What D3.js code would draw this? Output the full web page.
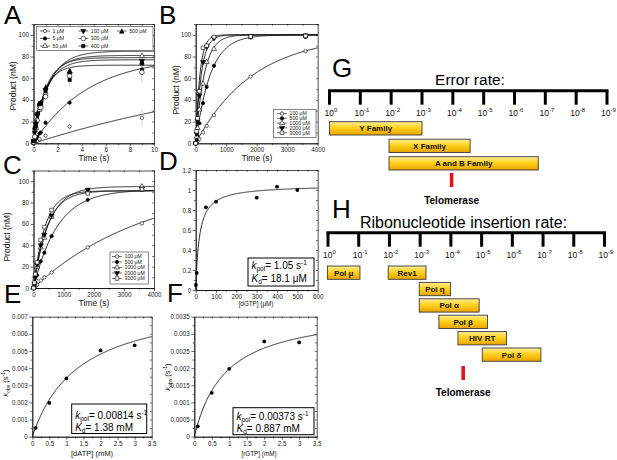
<!DOCTYPE html>
<html>
<head>
<meta charset="utf-8">
<script src="https://d3js.org/d3.v7.min.js"></script>
<style>
  body { margin: 0; background: #fff; }
</style>
</head>
<body>
<svg id="fig" width="617" height="460"></svg>
<script>
// ---------- data: panel A (time course, seconds) ----------
const concA = ['1 μM', '5 μM', '50 μM', '100 μM', '300 μM', '400 μM', '500 μM'];
const symA = ['oc', 'fc', 'ot', 'ft', 'oC', 'fs', 'rt'];
const timeA = [0, 0.1, 0.2, 0.3, 0.5, 0.6, 1, 3, 9];
const prodA = [
  [0, null, null, 2, 4, null, 7, 15.5, 23.5],
  [0, 2, 4, 6, 9, 10, 19, 37.5, 68],
  [1, 7, 14, 22, 31, 35, 46, 66, 80.5],
  [2, 10, 18, 26, 35, 37, 49, 64, 76],
  [1, 6, 14, 21, 33, 33, 43, 62, 65.5],
  [2, 14, 16, 27, 36, 37, 48, 58.5, 73.5],
  [3, 15, 20, 28, 37, 38, 52, 67, 75]
];
const errA = [
  [0, 0, 0, 0, 0, 0, 2, 4, 8],
  [0, 0, 0, 0, 1, 0, 3, 5, 9],
  [0, 0, 0, 0, 0, 0, 4, 6, 9],
  [0, 0, 0, 0, 0, 0, 4, 5, 9],
  [0, 0, 0, 0, 0, 0, 3, 6, 10],
  [0, 0, 0, 0, 0, 0, 4, 7, 8],
  [0, 0, 0, 0, 0, 0, 4, 5, 9]
];
const ampA = [80, 80, 85, 81, 72, 77, 79];
const rateA = [0.045, 0.22, 0.8, 0.9, 1.15, 0.95, 1.0];

// ---------- panel B ----------
const concB = ['100 μM', '500 μM', '1000 μM', '2000 μM', '3000 μM'];
const symB = ['oc', 'fc', 'ot', 'ft', 'os'];
const timeB = [0, 30, 60, 120, 240, 360, 600, 1800, 3600];
const prodB = [
  [0, 1, 2, 4, 10, 16, 26, 61.5, 85],
  [0, 3, 7, 18.5, 37, 52, 71.5, 97.5, 98],
  [0, 6, 14, 31, 55, 75, 87, 98, 99],
  [0, 9, 21, 44, 75, 89, 97, 99, 99.5],
  [0, 11, 23, 48, 88, 90, 98, 98.5, 99]
];
const ampB = [100, 100, 100, 100, 100];
const rateB = [0.00053, 0.0021, 0.0036, 0.0055, 0.0072];

// ---------- panel C ----------
const concC = ['100 μM', '500 μM', '1000 μM', '2000 μM', '3000 μM'];
const symC = ['oc', 'fc', 'ot', 'ft', 'os'];
const timeC = [0, 30, 60, 120, 240, 360, 600, 1800, 3600];
const prodC = [
  [0, 0.5, 1.5, 3, 7, 10, 14.5, 38, 60.5],
  [0, 2, 5, 12, 25, 33, 48.5, 82.5, 92],
  [0, 4, 9, 20, 38, 47, 66.5, 91, 95],
  [0, 4, 10, 22, 40, 50, 68, 92, 93],
  [0, 5, 13, 24, 45, 57, 73, 88.5, 92.5]
];
const ampC = [100, 92, 95, 91, 91];
const rateC = [0.000265, 0.00125, 0.002, 0.0022, 0.0026];

// ---------- panels D, E, F (kobs vs [NTP]) ----------
const concD = [1, 5, 50, 100, 300, 400, 500];
const kobsD = [0.05, 0.17, 0.827, 0.883, 0.923, 1.033, 1.0];
const fitD = { kpol: 1.05, kd: 18.1 };

const concE = [0.1, 0.5, 1, 2, 3];
const kobsE = [0.00052, 0.00197, 0.0034, 0.00503, 0.00533];
const fitE = { kpol: 0.00814, kd: 1.38 };

const concF = [0.1, 0.5, 1, 2, 3];
const kobsF = [0.0003, 0.00128, 0.00198, 0.00278, 0.00275];
const fitF = { kpol: 0.00373, kd: 0.887 };

// ---------- tick labels ----------
const ticksProd = [0, 20, 40, 60, 80, 100];
const minorProd = [10, 30, 50, 70, 90, 110];
const ticksTimeA = [0, 2, 4, 6, 8, 10];
const minorTimeA = [1, 3, 5, 7, 9];
const ticksTimeBC = [0, 1000, 2000, 3000, 4000];
const minorTimeBC = [500, 1500, 2500, 3500];
const ticksDx = [0, 100, 200, 300, 400, 500, 600];
const minorDx = [50, 150, 250, 350, 450, 550];
const ticksDy = [0, 0.2, 0.4, 0.6, 0.8, 1, 1.2];
const minorDy = [0.1, 0.3, 0.5, 0.7, 0.9, 1.1];
const ticksEFx = [0, 0.5, 1, 1.5, 2, 2.5, 3, 3.5];
const minorEFx = [0.25, 0.75, 1.25, 1.75, 2.25, 2.75, 3.25];
const ticksEy = [0, 0.001, 0.002, 0.003, 0.004, 0.005, 0.006, 0.007];
const minorEy = [0.0005, 0.0015, 0.0025, 0.0035, 0.0045, 0.0055, 0.0065];
const ticksFy = [0, 0.0005, 0.001, 0.0015, 0.002, 0.0025, 0.003, 0.0035];
const minorFy = [0.00025, 0.00075, 0.00125, 0.00175, 0.00225, 0.00275, 0.00325];

// ---------- panels G, H (log10 scale, 10^0 .. 10^-9) ----------
const exponents = [0, 1, 2, 3, 4, 5, 6, 7, 8, 9];
const errNames = ['Y Family', 'X Family', 'A and B Family'];
const errFrom = [0, 1.93, 1.93];
const errTo = [3, 4.56, 6.77];
const errTelomerase = 3.96;

const insNames = ['Pol μ', 'Rev1', 'Pol η', 'Pol α', 'Pol β', 'HIV RT', 'Pol δ'];
const insFrom = [-0.02, 1.96, 2.97, 2.97, 3.61, 4.23, 5.02];
const insTo = [1.04, 3.19, 3.99, 4.92, 5.19, 5.81, 6.93];
const insRow = [0, 0, 1, 2, 3, 4, 5];
const insTelomerase = 4.4;

// ---------- drawing ----------
const FONT = '"Liberation Sans", Arial, sans-serif';
const svg = d3.select('#fig');
const fmt = d => String(+d.toFixed(5));

const SYM = {
  oc: [d3.symbolCircle, 9, '#fff'],
  fc: [d3.symbolCircle, 9, '#000'],
  ot: [d3.symbolTriangle, 11, '#fff'],
  ft: [d3.symbolTriangle, 11, '#000', true],
  oC: [d3.symbolCircle, 17, '#fff'],
  fs: [d3.symbolSquare, 11, '#000'],
  os: [d3.symbolSquare, 13, '#fff'],
  rt: [{ draw(c, s) { const r = Math.sqrt(s) / 1.6; c.moveTo(-r, r); c.lineTo(r, r); c.lineTo(r * 0.1, -r); c.closePath(); } }, 12, '#000']
};

function drawSym(g, type, px, py) {
  const [t, size, fill, flip] = SYM[type];
  g.append('path')
    .attr('d', d3.symbol().type(t).size(size)())
    .attr('transform', `translate(${px},${py})` + (flip ? ' rotate(180)' : ''))
    .attr('fill', fill).attr('stroke', '#000').attr('stroke-width', 0.6);
}

function frame(o) {
  const x = d3.scaleLinear().domain(o.xd).range([o.l, o.r]);
  const y = d3.scaleLinear().domain(o.yd).range([o.b, o.t]);
  const g = svg.append('g');
  const ax = (gen, tr, vals, size, lab) => {
    const a = g.append('g').attr('transform', tr)
      .call(gen.tickValues(vals).tickSize(size).tickSizeOuter(0).tickPadding(1.5)
        .tickFormat(lab ? fmt : () => ''));
    a.select('.domain').attr('stroke', '#000').attr('stroke-width', 0.7);
    a.selectAll('line').attr('stroke', '#000').attr('stroke-width', 0.6);
    a.selectAll('text').attr('font-size', 6.3).attr('font-family', FONT).attr('fill', '#222');
    return a;
  };
  ax(d3.axisBottom(x), `translate(0,${o.b})`, o.xt, 3, true);
  ax(d3.axisBottom(x), `translate(0,${o.b})`, o.xm, 1.8, false);
  ax(d3.axisLeft(y), `translate(${o.l},0)`, o.yt, 3, true);
  ax(d3.axisLeft(y), `translate(${o.l},0)`, o.ym, 1.8, false);
  ax(d3.axisTop(x), `translate(0,${o.t})`, o.xt.concat(o.xm), -1.8, false);
  ax(d3.axisRight(y), `translate(${o.r},0)`, o.yt.concat(o.ym), -1.8, false);
  return { g, x, y };
}

function letter(txt, x, y) {
  svg.append('text').attr('x', x).attr('y', y).attr('font-family', FONT)
    .attr('font-size', 26).text(txt);
}

function label(txt, x, y, size, rot) {
  return svg.append('text')
    .attr('transform', `translate(${x},${y})` + (rot ? ' rotate(-90)' : ''))
    .attr('text-anchor', 'middle').attr('font-family', FONT)
    .attr('font-size', size).attr('fill', '#111').text(txt);
}

function timeCourse(p, times, prods, amps, rates, syms, tmax, errs) {
  const line = d3.line().x(d => p.x(d[0])).y(d => p.y(d[1]));
  const samples = d3.range(0, 201).map(i => tmax * i / 200);
  prods.forEach((vals, s) => {
    p.g.append('path')
      .attr('d', line(samples.map(t => [t, amps[s] * (1 - Math.exp(-rates[s] * t))])))
      .attr('fill', 'none').attr('stroke', '#111').attr('stroke-width', 0.9);
  });
  if (errs) {
    prods.forEach((vals, s) => vals.forEach((v, i) => {
      if (v == null || !errs[s][i]) return;
      p.g.append('line').attr('x1', p.x(times[i])).attr('x2', p.x(times[i]))
        .attr('y1', p.y(v - errs[s][i])).attr('y2', p.y(v + errs[s][i]))
        .attr('stroke', '#c8c8c8').attr('stroke-width', 0.7);
    }));
  }
  prods.forEach((vals, s) => vals.forEach((v, i) => {
    if (v == null) return;
    drawSym(p.g, syms[s], p.x(times[i]), p.y(v));
  }));
}

function legend(names, syms, x0, y0, x1, y1, cols, rows) {
  const g = svg.append('g');
  g.append('rect').attr('x', x0).attr('y', y0).attr('width', x1 - x0).attr('height', y1 - y0)
    .attr('fill', '#fff').attr('stroke', '#333').attr('stroke-width', 0.6);
  names.forEach((n, i) => {
    const c = Math.floor(i / rows.length), r = i % rows.length;
    const lx = cols[c], ly = rows[r];
    g.append('line').attr('x1', lx).attr('x2', lx + 10).attr('y1', ly).attr('y2', ly)
      .attr('stroke', '#111').attr('stroke-width', 0.6);
    drawSym(g, syms[i], lx + 5, ly);
    g.append('text').attr('x', lx + 12.5).attr('y', ly + 1.8).attr('font-family', FONT)
      .attr('font-size', 5.2).attr('fill', '#222').text(n);
  });
}

function hyperbola(p, conc, kobs, fit, xmax) {
  const line = d3.line().x(d => p.x(d[0])).y(d => p.y(d[1]));
  const samples = d3.range(0, 301).map(i => xmax * i / 300);
  p.g.append('path')
    .attr('d', line(samples.map(c => [c, fit.kpol * c / (fit.kd + c)])))
    .attr('fill', 'none').attr('stroke', '#111').attr('stroke-width', 0.9);
  conc.forEach((c, i) => p.g.append('circle').attr('cx', p.x(c)).attr('cy', p.y(kobs[i]))
    .attr('r', 1.9).attr('fill', '#000'));
}

function kbox(x, y, w, h, kpol, kpolUnit, kd, kdUnit, b1, b2) {
  const g = svg.append('g').attr('font-family', FONT).attr('font-size', 10);
  g.append('rect').attr('x', x).attr('y', y).attr('width', w).attr('height', h)
    .attr('fill', '#fff').attr('stroke', '#000').attr('stroke-width', 1);
  const t1 = g.append('text').attr('x', x + 3.5).attr('y', b1);
  t1.append('tspan').attr('font-style', 'italic').text('k');
  t1.append('tspan').attr('font-size', 6.5).attr('dy', 2).text('pol');
  t1.append('tspan').attr('dy', -2).text('= ' + kpol + ' ' + kpolUnit);
  t1.append('tspan').attr('font-size', 6.5).attr('dy', -4).text('-1');
  const t2 = g.append('text').attr('x', x + 3.5).attr('y', b2);
  t2.append('tspan').attr('font-style', 'italic').text('K');
  t2.append('tspan').attr('font-size', 6.5).attr('dy', 2).text('d');
  t2.append('tspan').attr('dy', -2).text('= ' + kd + ' ' + kdUnit);
}

function kobsLabel(x, y) {
  const t = svg.append('text').attr('transform', `translate(${x},${y}) rotate(-90)`)
    .attr('text-anchor', 'middle').attr('font-family', FONT).attr('font-size', 7.5).attr('fill', '#111');
  t.append('tspan').attr('font-style', 'italic').text('k');
  t.append('tspan').attr('font-size', 5).attr('dy', 1.5).text('obs');
  t.append('tspan').attr('dy', -1.5).text(' (s');
  t.append('tspan').attr('font-size', 5).attr('dy', -3).text('-1');
  t.append('tspan').attr('dy', 3).text(')');
}

// --- A
const pA = frame({ l: 33.5, r: 154, t: 24, b: 143.3, xd: [0, 10], yd: [0, 110],
  xt: ticksTimeA, xm: minorTimeA, yt: ticksProd, ym: minorProd });
timeCourse(pA, timeA, prodA, ampA, rateA, symA, 10, errA);
legend(concA, symA, 36.7, 26.5, 153, 50.5, [40, 78.3, 116.7], [31, 38.5, 46]);
letter('A', 4, 24);
label('Product (nM)', 16, 86, 8.5, true);
label('Time (s)', 94, 161, 8.5);

// --- B
const pB = frame({ l: 195.7, r: 317.7, t: 24, b: 143.3, xd: [0, 4000], yd: [0, 110],
  xt: ticksTimeBC, xm: minorTimeBC, yt: ticksProd, ym: minorProd });
timeCourse(pB, timeB, prodB, ampB, rateB, symB, 4000);
legend(concB, symB, 273.5, 109.5, 316, 137.5, [277], [113.5, 118.3, 123.1, 127.9, 132.7]);
letter('B', 159, 24);
label('Product (nM)', 179, 90, 8.5, true);
label('Time (s)', 257, 161, 8.5);

// --- C
const pC = frame({ l: 33.5, r: 154, t: 170.5, b: 288, xd: [0, 4000], yd: [0, 110],
  xt: ticksTimeBC, xm: minorTimeBC, yt: ticksProd, ym: minorProd });
timeCourse(pC, timeC, prodC, ampC, rateC, symC, 4000);
legend(concC, symC, 110, 252, 148.5, 284, [112], [256.5, 262, 267.5, 273, 278.5]);
letter('C', 3, 173.5);
label('Product (nM)', 10, 237, 8.5, true);
label('Time (s)', 94, 306, 8.5);

// --- D
const pD = frame({ l: 195.7, r: 317.7, t: 170, b: 290, xd: [0, 600], yd: [0, 1.2],
  xt: ticksDx, xm: minorDx, yt: ticksDy, ym: minorDy });
hyperbola(pD, concD, kobsD, fitD, 600);
kbox(248, 258, 66, 28, fitD.kpol, 's', fitD.kd, 'μM', 268.5, 282);
letter('D', 159, 170);
label('[dGTP] (μM)', 256, 306, 6.3);

// --- E
const pE = frame({ l: 32.3, r: 151.7, t: 316.7, b: 436.7, xd: [0, 3.5], yd: [0, 0.007],
  xt: ticksEFx, xm: minorEFx, yt: ticksEy, ym: minorEy });
hyperbola(pE, concE, kobsE, fitE, 3.5);
kbox(71.7, 404, 75, 29.5, fitE.kpol, 's', fitE.kd, 'mM', 418.5, 431);
letter('E', 4, 303);
kobsLabel(8, 383);
label('[dATP] (mM)', 92, 456, 7.5);

// --- F
const pF = frame({ l: 194.3, r: 316.7, t: 316.7, b: 436.7, xd: [0, 3.5], yd: [0, 0.0035],
  xt: ticksEFx, xm: minorEFx, yt: ticksFy, ym: minorFy });
hyperbola(pF, concF, kobsF, fitF, 3.5);
kbox(233, 407.7, 81, 27, fitF.kpol, 's', fitF.kd, 'mM', 419.5, 431.5);
letter('F', 167, 302);
kobsLabel(170, 377);
label('[rGTP] (mM)', 259, 456, 6.3);

// --- G and H: rate scales
const defs = svg.append('defs');
const grad = defs.append('linearGradient').attr('id', 'gold')
  .attr('x1', 0).attr('y1', 0).attr('x2', 0).attr('y2', 1);
grad.append('stop').attr('offset', 0).attr('stop-color', '#FFEE99');
grad.append('stop').attr('offset', 0.45).attr('stop-color', '#FFD21C');
grad.append('stop').attr('offset', 1).attr('stop-color', '#E9A300');

function rateScale(sc, axisY, title, titleX, titleY) {
  const g = svg.append('g');
  g.append('text').attr('x', titleX).attr('y', titleY).attr('text-anchor', 'middle')
    .attr('font-family', FONT).attr('font-size', title.length > 15 ? 16 : 15.5).text(title);
  g.append('line').attr('x1', sc(0) - 1.5).attr('x2', sc(9) + 1.5).attr('y1', axisY).attr('y2', axisY)
    .attr('stroke', '#000').attr('stroke-width', 3);
  exponents.forEach(e => {
    g.append('line').attr('x1', sc(e)).attr('x2', sc(e)).attr('y1', axisY).attr('y2', axisY + 14)
      .attr('stroke', '#000').attr('stroke-width', 3);
    const t = g.append('text').attr('x', sc(e) + 1.5).attr('y', axisY + 25)
      .attr('text-anchor', 'middle')
      .attr('font-family', FONT).attr('font-size', 8.5).attr('fill', '#111');
    t.append('tspan').text('10');
    t.append('tspan').attr('font-size', 6).attr('dy', -3.5).text(e === 0 ? '0' : '-' + e);
  });
  return g;
}

function rateBars(g, sc, names, from, to, rowY, h) {
  names.forEach((n, i) => {
    g.append('rect').attr('x', sc(from[i])).attr('y', rowY(i)).attr('width', sc(to[i]) - sc(from[i]))
      .attr('height', h).attr('fill', 'url(#gold)').attr('stroke', '#3a3a3a').attr('stroke-width', 0.9);
    g.append('text').attr('x', (sc(from[i]) + sc(to[i])) / 2).attr('y', rowY(i) + h / 2 + 3)
      .attr('text-anchor', 'middle').attr('font-family', FONT).attr('font-weight', 'bold')
      .attr('font-size', 8).attr('fill', '#111').text(n);
  });
}

function telomerase(g, sc, v, y0, y1, ty) {
  g.append('rect').attr('x', sc(v) - 1.8).attr('y', y0).attr('width', 3.6).attr('height', y1 - y0)
    .attr('fill', '#e0141e');
  g.append('text').attr('x', sc(v)).attr('y', ty).attr('text-anchor', 'middle')
    .attr('font-family', FONT).attr('font-weight', 'bold').attr('font-size', 10).text('Telomerase');
}

const gx = d3.scaleLinear().domain([0, 9]).range([329.5, 607]);
const gG = rateScale(gx, 90.7, 'Error rate:', 470, 85);
rateBars(gG, gx, errNames, errFrom, errTo, i => 121.7 + i * 17.5, 13.3);
telomerase(gG, gx, errTelomerase, 173, 187, 204);
letter('G', 332, 77);

const hx = d3.scaleLinear().domain([0, 9]).range([328, 604.5]);
const gH = rateScale(hx, 232.7, 'Ribonucleotide insertion rate:', 463.5, 228.3);
rateBars(gH, hx, insNames, insFrom, insTo, i => 266 + insRow[i] * 16.4, 13.3);
telomerase(gH, hx, insTelomerase, 366, 380, 396);
letter('H', 332, 218);
</script>
</body>
</html>
